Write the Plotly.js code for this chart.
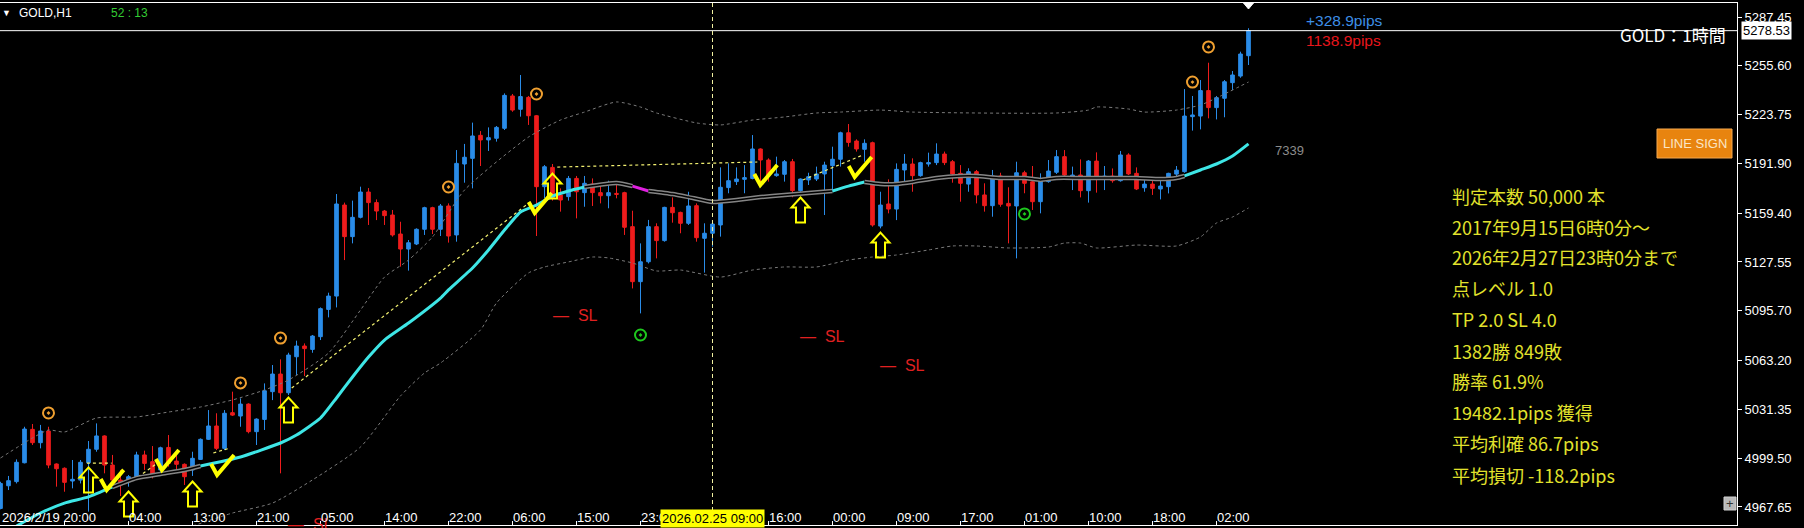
<!DOCTYPE html>
<html><head><meta charset="utf-8">
<script src="https://cdn.plot.ly/plotly-3.0.1.min.js"></script>
<style>html,body{margin:0;padding:0;background:#000;overflow:hidden}#chart{width:1804px;height:528px}</style>
</head><body><div id="chart"></div>
<script>
// ---------- DATA ----------
const opens = [4966.7,4981.5,4984.2,4996.5,5018.3,5009.6,5017.2,4995.7,4992.9,4984.6,4985.2,4996.5,5005.3,5014.0,4995.0,4985.2,4984.2,4987.4,5001.6,4997.2,4991.8,5006.5,4997.6,4995.5,4991.8,4998.7,5011.8,5020.5,5005.9,
5029.2,5027.0,5034.8,5016.8,5024.8,5042.9,5054.4,5042.2,5065.7,5072.7,5070.5,5078.8,5096.6,5105.3,5164.7,5144.1,5156.7,5173.2,5166.3,5160.8,5158.2,5145.8,5136.0,5139.3,5148.9,5163.0,
5148.9,5164.1,5145.2,5191.5,5195.2,5210.2,5207.2,5208.3,5214.8,5235.9,5227.2,5235.0,5223.0,5176.7,5189.3,5171.3,5170.2,5182.1,5172.8,5178.4,5172.8,5170.8,5172.3,5172.8,5150.6,5114.7,5127.7,
5150.6,5141.5,5163.2,5159.9,5152.8,5164.3,5143.0,5146.3,5151.7,5176.1,5180.0,5181.5,5182.1,5201.3,5194.1,5183.9,5184.8,5193.0,5174.1,5181.1,5181.7,5185.0,5190.4,5194.6,5211.9,5206.5,5201.1,
5205.4,5151.0,5165.4,5162.1,5187.6,5191.5,5183.9,5191.5,5192.4,5198.0,5193.0,5185.4,5178.4,5186.5,5171.3,5164.3,5183.7,5165.8,5164.1,5185.8,5179.9,5166.9,5180.0,5186.1,5196.3,5183.2,
5184.3,5174.1,5193.4,5182.1,5183.6,5180.6,5197.4,5185.4,5176.0,5178.4,5175.2,5176.7,5184.9,5186.5,5222.4,5222.8,5239.4,5228.3,5234.4,5244.6,5248.9,5262.2];
const highs = [4984.1,4987.9,4998.7,5020.0,5021.8,5021.2,5020.0,4996.1,4993.5,4998.3,4998.3,5010.7,5022.2,5014.4,5001.6,4991.8,4988.5,5003.7,5004.4,5007.4,5007.0,5014.6,5003.7,4996.1,5003.7,5012.4,5030.9,5028.8,5030.9,
5042.9,5038.5,5035.3,5025.5,5048.3,5060.3,5064.0,5068.3,5076.2,5074.4,5079.9,5097.9,5107.5,5171.9,5166.3,5167.6,5176.7,5175.8,5168.4,5161.5,5161.5,5153.8,5141.9,5149.5,5163.6,5163.6,
5165.4,5165.8,5200.6,5204.6,5218.5,5213.0,5215.4,5216.3,5237.6,5237.2,5249.6,5235.9,5223.5,5190.8,5191.5,5175.6,5183.7,5183.7,5183.7,5182.1,5177.8,5180.6,5177.8,5173.4,5161.0,5139.7,5155.0,
5152.8,5163.6,5169.7,5160.4,5173.4,5165.8,5152.8,5153.9,5189.3,5191.9,5189.3,5190.8,5210.4,5201.7,5195.2,5196.3,5194.1,5194.8,5182.1,5185.8,5189.8,5193.0,5202.8,5212.6,5217.6,5207.6,5207.6,
5206.1,5173.4,5181.5,5191.9,5198.0,5195.2,5193.0,5198.9,5205.0,5199.6,5194.1,5190.8,5188.7,5187.6,5178.9,5187.6,5185.8,5176.3,5193.0,5187.1,5190.2,5185.4,5194.1,5200.6,5200.6,5189.8,
5194.5,5194.1,5199.1,5190.2,5188.6,5200.0,5198.5,5189.3,5181.0,5181.0,5180.6,5185.8,5190.2,5240.4,5235.9,5246.3,5257.6,5235.9,5246.3,5252.2,5264.8,5280.1];
const lows = [4966.1,4978.7,4983.0,4996.1,5008.1,5005.9,4992.9,4980.9,4977.6,4979.8,4983.0,4964.6,5003.7,4989.6,4982.0,4974.8,4980.9,4987.0,4991.8,4986.3,4990.7,4994.0,4991.8,4982.0,4987.9,4998.3,5011.4,5004.8,5004.8,
5027.0,5020.0,5015.7,5008.1,5017.9,5037.4,4989.6,5040.7,5053.8,5053.1,5068.3,5076.6,5091.4,5097.9,5128.8,5139.7,5156.0,5151.7,5154.9,5151.7,5144.1,5124.5,5121.9,5138.6,5145.2,5145.8,
5144.5,5140.2,5140.8,5179.3,5175.6,5190.2,5200.0,5206.1,5213.7,5225.6,5222.4,5217.0,5144.5,5169.1,5167.6,5160.4,5167.6,5156.0,5163.6,5164.1,5165.8,5162.6,5169.1,5145.2,5110.3,5094.0,5126.6,
5129.9,5140.8,5153.2,5146.3,5151.7,5140.8,5120.6,5137.5,5144.1,5172.4,5177.8,5172.4,5181.5,5177.8,5180.0,5183.2,5180.0,5169.8,5173.4,5177.8,5180.4,5158.2,5173.4,5189.8,5202.8,5199.6,5193.0,
5150.6,5149.5,5159.3,5154.9,5177.8,5173.4,5183.2,5189.8,5190.8,5190.8,5179.3,5166.9,5173.4,5165.8,5160.4,5157.1,5163.6,5139.7,5129.9,5172.4,5161.5,5159.3,5179.3,5185.0,5183.7,5174.5,
5169.7,5166.3,5172.8,5174.5,5179.3,5180.0,5184.3,5174.5,5173.4,5171.3,5168.4,5172.3,5183.2,5185.8,5213.3,5214.1,5221.3,5220.6,5222.0,5239.8,5247.8,5256.1];
const closes = [4983.0,4984.8,4996.8,5018.5,5009.6,5017.2,4995.0,4992.6,4983.7,4985.7,4996.8,5005.3,5014.0,4995.0,4985.2,4982.0,4987.4,5001.6,4996.1,4988.5,5006.3,4996.1,4995.5,4987.4,4999.4,5011.8,5020.5,5005.9,5028.8,
5027.6,5034.8,5016.8,5025.0,5043.5,5054.4,5042.2,5066.8,5072.7,5071.0,5079.2,5097.1,5105.3,5165.4,5144.1,5156.7,5173.2,5166.3,5160.8,5157.8,5145.2,5136.0,5140.1,5148.9,5163.0,5148.9,
5164.1,5144.5,5191.9,5195.9,5209.8,5207.2,5208.7,5215.4,5236.3,5226.7,5235.5,5223.0,5176.7,5189.7,5169.1,5168.0,5182.1,5173.4,5178.9,5172.8,5170.8,5172.8,5171.7,5150.2,5114.7,5127.7,5150.6,
5141.5,5163.2,5159.7,5152.8,5164.1,5143.4,5146.3,5152.3,5176.3,5180.6,5181.7,5182.6,5201.3,5194.1,5184.3,5185.0,5193.0,5174.1,5181.7,5183.2,5185.0,5190.8,5194.6,5211.9,5205.6,5201.3,5205.0,
5151.7,5164.7,5162.1,5188.0,5191.5,5183.9,5192.4,5192.4,5198.0,5192.4,5185.0,5178.9,5186.5,5171.3,5164.3,5183.7,5165.2,5164.1,5185.8,5178.9,5166.9,5181.1,5186.9,5196.3,5184.3,5184.3,
5174.1,5193.4,5183.2,5183.6,5180.6,5197.4,5185.0,5175.2,5178.4,5175.6,5177.1,5185.4,5187.5,5222.8,5223.5,5239.4,5228.3,5234.8,5245.2,5249.6,5263.3,5278.53];
const lastPrice = 5278.53;

// moving average (sampled where read)
const maBars = [2,5,8,11,14,17,20,23,25,30,35,37,40,42,44,46,48,51,55,56,59,61,63,65,67,69,71,73,77,79,81,84,86,89,92,95,98,101,104,106,108,110,112,114,117,120,122,125,128,130,132,135,138,142,145,147,148,150,152,154,156];
const maValues = [4955.2,4963.7,4970.2,4974.2,4980.7,4986.5,4989.2,4991.8,4994.4,5000.3,5009.4,5014.6,5025.7,5038.8,5052.5,5065.5,5076.6,5087.7,5104.0,5109.3,5123.6,5135.4,5148.4,5160.2,5164.7,5170.6,5173.9,5176.5,5179.1,5177.1,5173.9,5171.9,5169.9,5166.7,5168.0,5169.9,5171.3,5172.6,5173.9,5177.1,5179.8,5178.5,5178.5,5179.8,5182.4,5183.7,5183.7,5182.4,5182.4,5181.1,5182.4,5182.4,5182.4,5182.4,5181.7,5182.4,5183.7,5187.6,5191.5,5196.7,5204.6];
const maTrendBreaks = [0,14,25,73,79,81,104,108,148,156];
const maTrendStates = ['up','flat','up','flat','down','flat','up','flat','up'];

const upperBandBars = [0,4,6,8,12,17,21,25,29,33,36,41,45,48,51,54,58,66,70,73,77,80,82,87,90,94,98,102,105,110,114,132,136,137,141,143,147,150,152,156];
const upperBandValues = [4999.6,5012.7,5017.9,5016.6,5025.7,5026.4,5029.6,5032.9,5037.5,5044.0,5050.5,5068.1,5096.2,5117.7,5128.8,5143.9,5174.5,5209.1,5220.2,5225.4,5232.0,5228.7,5224.8,5218.3,5217.0,5220.2,5222.2,5224.8,5225.4,5226.7,5225.4,5224.8,5226.7,5228.7,5227.4,5225.4,5226.7,5230.0,5234.6,5245.0];
const lowerBandBars = [24,29,34,39,45,50,53,55,60,62,66,68,71,74,76,79,82,85,90,94,98,102,106,109,112,116,119,122,126,131,133,135,137,142,147,150,152,154,156];
const lowerBandValues = [4955.2,4963.7,4970.2,4985.3,5006.8,5040.1,5055.1,5061.6,5083.2,5100.8,5120.4,5124.3,5127.6,5130.8,5130.2,5126.9,5121.7,5122.3,5117.7,5122.3,5124.3,5124.3,5128.8,5130.8,5132.1,5135.4,5138.0,5138.0,5136.7,5137.3,5139.9,5139.9,5136.7,5138.6,5138.0,5143.9,5153.0,5156.9,5162.8];

const orangeMarkBars = [6,30,35,56,67,149,151];
const orangeMarkPrices = [5029.0,5048.6,5077.9,5176.5,5237.2,5245.0,5267.9];
const greenMarkBars = [80,128];
const greenMarkPrices = [5079.9,5158.9];
const buyArrowBars = [11,16,24,36,69,100,110];
const buyArrowPrices = [4985.3,4969.6,4976.1,5030.9,5177.1,5161.5,5138.6];
const checkBars = [13.9,20.8,27.7,67.4,95.6,107.4];
const checkPrices = [4985.3,4998.3,4995.0,5166.0,5184.3,5189.5];
const tradeStartBars = [10.8,17.2,26.6,36.4,69.6,100.3];
const tradeStartPrices = [4996.3,4987.2,5002.9,5045.3,5189.5,5181.1];
const tradeEndBars = [13.9,19.6,28.7,66.2,94.6,107.8];
const tradeEndPrices = [4996.3,4996.3,5006.1,5166.7,5192.8,5197.4];
const slLabelBars = [71.9,102.7,112.7,38.7];
const slLabelPrices = [5092.3,5078.6,5060.3,4956.5];
const slLabelText = '—  SL';

const priceTicks = [5287.45,5255.60,5223.75,5191.90,5159.40,5127.55,5095.70,5063.20,5031.35,4999.50,4967.65];
const timeTickBars = [8,16,24,32,40,48,56,64,72,80,88,96,104,112,120,128,136,144,152];
const timeTickLabels = [null,'04:00','13:00','21:00','05:00','14:00','22:00','06:00','15:00','23:00','08:00','16:00','00:00','09:00','17:00','01:00','10:00','18:00','02:00'];
const firstTimeLabel = '2026/2/19 20:00';
const cursorBar = 89;
const cursorLabel = '2026.02.25 09:00';

const symbolTitle = 'GOLD,H1';
const countdownText = '52 : 13';
const pipsUp = '+328.9pips';
const pipsDown = '1138.9pips';
const periodLabel = 'GOLD：1時間';
const buttonLabel = 'LINE SIGN';
const sideNumber = '7339';
const statsLines = ['判定本数 50,000 本','2017年9月15日6時0分～','2026年2月27日23時0分まで','点レベル 1.0','TP 2.0 SL 4.0','1382勝 849敗','勝率 61.9%','19482.1pips 獲得','平均利確 86.7pips','平均損切 -118.2pips'];

// ---------- LAYOUT GEOMETRY ----------
const W = 1804, H = 528;
const PL = 0, PR = 1737, PT = 3, PB = 525;
const BAR_PX = 8, BAR0_PX = 0.5;
const PX_PER_PRICE = 1 / 0.6527;
const yTop = 5287.45 + (17 - PT) / PX_PER_PRICE;
const yBot = 5287.45 - (PB - 17) / PX_PER_PRICE;
const xLeft = (PL - BAR0_PX) / BAR_PX;
const xRight = (PR - BAR0_PX) / BAR_PX;

const BLUE = '#2a8ce8', RED = '#ee1c1c', CYAN = '#3ee6e6', YEL = '#ffff00', TXTY = '#e2e22c';
const FONT = 'Liberation Sans, Arial, sans-serif';
const CJK = 'Noto Sans CJK JP, sans-serif';

const bars = opens.map((_, i) => i);
const traces = [];

// bands
traces.push({type:'scatter', mode:'lines', x:upperBandBars, y:upperBandValues, line:{color:'#7a7a7a', width:1, dash:'3px,3px', shape:'spline', smoothing:0.6}, hoverinfo:'skip'});
traces.push({type:'scatter', mode:'lines', x:lowerBandBars, y:lowerBandValues, line:{color:'#7a7a7a', width:1, dash:'3px,3px', shape:'spline', smoothing:0.6}, hoverinfo:'skip'});

// candles
traces.push({type:'candlestick', x:bars, open:opens, high:highs, low:lows, close:closes,
  increasing:{line:{color:BLUE, width:1}, fillcolor:BLUE},
  decreasing:{line:{color:RED, width:1}, fillcolor:RED},
  whiskerwidth:0, hoverinfo:'skip'});

// trade lines
const tlx = [], tly = [];
tradeStartBars.forEach((b, i) => { tlx.push(b, tradeEndBars[i], null); tly.push(tradeStartPrices[i], tradeEndPrices[i], null); });
traces.push({type:'scatter', mode:'lines', x:tlx, y:tly, line:{color:'#f2f070', width:1.2, dash:'3px,3px'}, connectgaps:false, hoverinfo:'skip'});

// moving average segments
for (let s = 0; s < maTrendStates.length; s++) {
  const a = maTrendBreaks[s], b = maTrendBreaks[s+1];
  const xs = [], ys = [];
  maBars.forEach((bb, i) => { if (bb >= a && bb <= b) { xs.push(bb); ys.push(maValues[i]); } });
  const st = maTrendStates[s];
  if (st === 'flat') {
    traces.push({type:'scatter', mode:'lines', x:xs, y:ys, line:{color:'#858585', width:4.5, shape:'spline', smoothing:0.5}, hoverinfo:'skip'});
    traces.push({type:'scatter', mode:'lines', x:xs, y:ys, line:{color:'#000', width:1.5, shape:'spline', smoothing:0.5}, hoverinfo:'skip'});
  } else {
    traces.push({type:'scatter', mode:'lines', x:xs, y:ys, line:{color: st === 'up' ? CYAN : '#e020e0', width:3, shape:'spline', smoothing:0.5}, hoverinfo:'skip'});
  }
}

// circle marks
traces.push({type:'scatter', mode:'markers', x:orangeMarkBars, y:orangeMarkPrices, marker:{symbol:'circle-open-dot', size:11, color:'#f0a030', line:{width:2, color:'#f0a030'}}, hoverinfo:'skip', cliponaxis:false});
traces.push({type:'scatter', mode:'markers', x:greenMarkBars, y:greenMarkPrices, marker:{symbol:'circle-open-dot', size:11, color:'#1ec81e', line:{width:2, color:'#1ec81e'}}, hoverinfo:'skip'});

// ---------- SHAPES ----------
const shapes = [];
// price line
shapes.push({type:'line', xref:'paper', x0:0, x1:1, yref:'y', y0:lastPrice, y1:lastPrice, line:{color:'#ffffff', width:1}});
// cursor vertical line
shapes.push({type:'line', xref:'x', x0:cursorBar, x1:cursorBar, yref:'paper', y0:0, y1:1, line:{color:'#f0f0a0', width:1, dash:'4px,3px'}});
// arrows
buyArrowBars.forEach((b, i) => shapes.push({type:'path', xref:'x', yref:'y', xsizemode:'pixel', ysizemode:'pixel', xanchor:b, yanchor:buyArrowPrices[i],
  path:'M0,12.5 L9,2.5 L4.5,2.5 L4.5,-12.5 L-4.5,-12.5 L-4.5,2.5 L-9,2.5 Z', line:{color:YEL, width:2}, fillcolor:'rgba(0,0,0,0)'}));
// check marks
checkBars.forEach((b, i) => shapes.push({type:'path', xref:'x', yref:'y', xsizemode:'pixel', ysizemode:'pixel', xanchor:b, yanchor:checkPrices[i],
  path:'M-11,1 L-5,-10 L12,10', line:{color:YEL, width:4}, fillcolor:'rgba(0,0,0,0)'}));
// shift marker at last bar
shapes.push({type:'path', xref:'x', yref:'paper', xsizemode:'pixel', ysizemode:'pixel', xanchor:bars[bars.length-1], yanchor:1,
  path:'M-5,0 L5,0 L0,-6 Z', line:{color:'#fff', width:1}, fillcolor:'#fff'});

// helpers for pixel-placed overlay elements
const px = v => (v - PL) / (PR - PL);
const py = v => (PB - v) / (PB - PT);
// LINE SIGN button
shapes.push({type:'rect', xref:'paper', yref:'paper', x0:px(1657), x1:px(1732), y0:py(158), y1:py(129), fillcolor:'#e8840f', line:{color:'#f4a850', width:1}});
// small + button
shapes.push({type:'rect', xref:'paper', yref:'paper', x0:px(1724), x1:px(1736), y0:py(510), y1:py(497), fillcolor:'#b8b8b8', line:{color:'#d0d0d0', width:1}});

// ---------- ANNOTATIONS ----------
const ann = [];
function txt(text, x, y, size, color, anchor, family, extra) {
  return Object.assign({text:text, xref:'paper', yref:'paper', x:px(x), y:py(y), xanchor:anchor||'left', yanchor:'middle', showarrow:false,
    font:{size:size, color:color, family:family||FONT}}, extra||{});
}
ann.push(txt('▼', 7, 13, 9, '#fff', 'center'));
ann.push(txt(symbolTitle, 17, 13, 12, '#fff'));
ann.push(txt(countdownText, 109, 13, 12, '#33cc33'));
ann.push(txt(pipsUp, 1304, 21, 15.5, '#3d8fe6'));
ann.push(txt(pipsDown, 1304, 40, 15.5, '#e8161c'));
ann.push(txt(periodLabel, 1728, 35, 17, '#ffffff', 'right', CJK));
ann.push(txt(buttonLabel, 1694.5, 143.5, 13, '#fbe6c6', 'center'));
ann.push(txt('+', 1730, 503, 13, '#333', 'center'));
ann.push(txt(sideNumber, 1273, 151, 13, '#8c8c8c'));
const statsY = [196,227,257,288,319,351,381,412,443,475];
statsLines.forEach((t, i) => ann.push(txt(t, 1450, statsY[i], 18, TXTY, 'left', CJK)));

// SL labels
slLabelBars.forEach((b, i) => ann.push({text:slLabelText, xref:'x', yref:'y', x:b, y:slLabelPrices[i], xanchor:'center', yanchor:'middle', showarrow:false, font:{size:16, color:'#e02020', family:FONT}}));

// time labels
ann.push({text:firstTimeLabel, xref:'paper', yref:'paper', x:0, y:0, yshift:8, xanchor:'left', yanchor:'middle', showarrow:false, font:{size:13, color:'#fff', family:FONT}});
timeTickBars.forEach((b, i) => { if (timeTickLabels[i]) ann.push({text:timeTickLabels[i], xref:'x', yref:'paper', x:b, y:0, xshift:-2, yshift:8, xanchor:'left', yanchor:'middle', showarrow:false, font:{size:13, color:'#fff', family:FONT}}); });
ann.push({text:cursorLabel, xref:'x', yref:'paper', x:cursorBar, y:0, yshift:7, xanchor:'center', yanchor:'middle', showarrow:false, bgcolor:'#ffff00', borderpad:1, font:{size:13, color:'#000', family:FONT}});
// last price tag
ann.push({text:lastPrice.toFixed(2), xref:'paper', yref:'y', x:1, y:lastPrice, xshift:4, xanchor:'left', yanchor:'middle', showarrow:false, bgcolor:'#ffffff', borderpad:1, font:{size:13, color:'#000', family:FONT}});

const layout = {
  width:W, height:H, margin:{l:PL, r:W-PR, t:PT, b:H-PB, pad:0},
  paper_bgcolor:'#000', plot_bgcolor:'#000', showlegend:false, boxgap:0.35,
  xaxis:{range:[xLeft, xRight], showgrid:false, zeroline:false, showline:true, mirror:true, linecolor:'#fff', linewidth:1,
    tickmode:'array', tickvals:timeTickBars, ticks:'inside', ticklen:4, tickcolor:'#fff', showticklabels:false, rangeslider:{visible:false}, fixedrange:true},
  yaxis:{side:'right', range:[yBot, yTop], showgrid:false, zeroline:false, showline:true, linecolor:'#fff', linewidth:1,
    tickmode:'array', tickvals:priceTicks, ticktext:priceTicks.map(v => v.toFixed(2)), ticks:'outside', ticklen:4, tickcolor:'#fff',
    tickfont:{size:13, color:'#fff', family:FONT}, fixedrange:true},
  shapes:shapes, annotations:ann
};
Plotly.newPlot('chart', traces, layout, {staticPlot:true, displayModeBar:false});
</script>
</body></html>
